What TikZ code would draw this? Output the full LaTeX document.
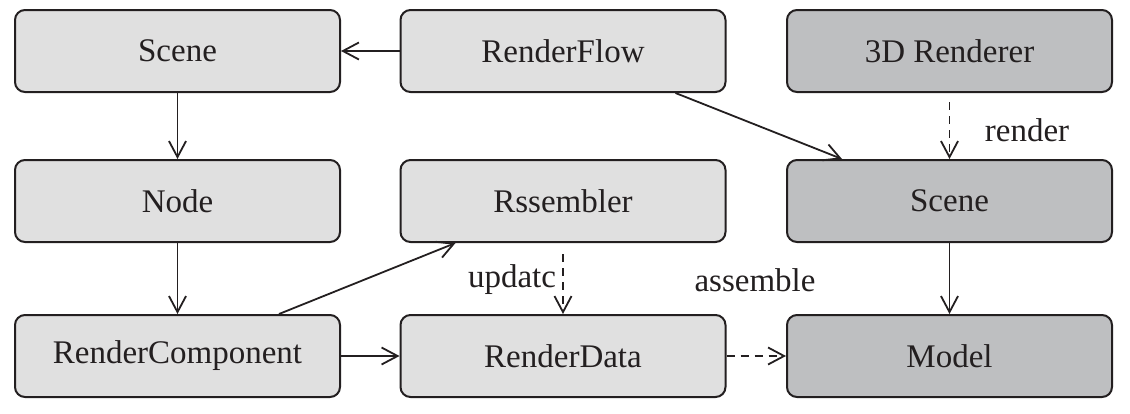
\documentclass[tikz,border=0pt]{standalone}
\usepackage{fontspec}
\setmainfont{Liberation Serif}
\usetikzlibrary{arrows.meta,calc}
\definecolor{ink}{HTML}{231F20}
\definecolor{lightbox}{HTML}{E0E0E0}
\definecolor{darkbox}{HTML}{BEBFC1}
\tikzset{
  box/.style={draw=ink, line width=2pt, rounded corners=10pt, minimum width=325pt, minimum height=82pt, inner sep=0pt, font=\fontsize{33}{40}\selectfont, text=ink},
  lbox/.style={box, fill=lightbox},
  dbox/.style={box, fill=darkbox},
  conn/.style={draw=ink, line width=1.8pt, -{Straight Barb[length=16pt,width=17pt,line width=1.8pt]}},
  dconn/.style={conn, dash pattern=on 8pt off 6pt},
  lbl/.style={font=\fontsize{33}{40}\selectfont, text=ink, inner sep=0pt}
}
\begin{document}
\begin{tikzpicture}[x=1pt,y=-1pt]
\useasboundingbox (0,0) rectangle (1130,413);
\node[lbox] (sc1) at (177.5,51) {Scene};
\node[lbox] (rf) at (563,51) {RenderFlow};
\node[dbox] (r3) at (949.5,51) {3D Renderer};
\node[lbox] (nd) at (177.5,201) {Node};
\node[lbox] (rs) at (563,201) {Rssembler};
\node[dbox] (sc2) at (949.5,201) {Scene};
\node[lbox] (rc) at (177.5,356) {RenderComponent};
\node[lbox] (rd) at (563,356) {RenderData};
\node[dbox] (md) at (949.5,356) {Model};
\node[lbl] (lu) at (512,280) {updatc};
\node[lbl] (la) at (755,280) {assemble};
\node[lbl] (lr) at (1027,130) {render};
\draw[conn] (rf.west) -- (sc1.east);
\draw[conn] (sc1.south) -- (nd.north);
\draw[conn] (nd.south) -- (rc.north);
\draw[conn] ([xshift=265pt]rc.north west) -- ([xshift=56pt]rs.south west);
\draw[conn] (rc.east) -- (rd.west);
\draw[dconn] ([yshift=-11pt]rs.south) -- (rd.north);
\draw[dconn] (rd.east) -- (md.west);
\draw[conn] ([xshift=276pt]rf.south west) -- ([xshift=56pt]sc2.north west);
\draw[dconn] ([yshift=-9pt]r3.south) -- (sc2.north);
\draw[conn] (sc2.south) -- (md.north);
\end{tikzpicture}
\end{document}
